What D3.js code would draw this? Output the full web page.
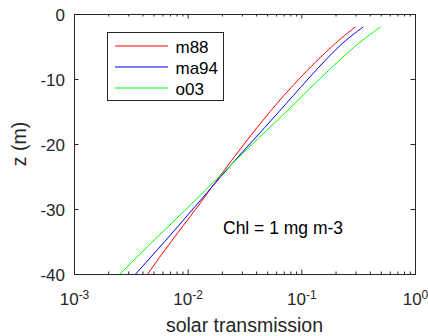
<!DOCTYPE html>
<html>
<head>
<meta charset="utf-8">
<script src="https://cdn.jsdelivr.net/npm/d3@7"></script>
<style>
  body { margin: 0; background: #fff; }
  svg { display: block; }
  text { font-family: "Liberation Sans", Arial, Helvetica, sans-serif; }
</style>
</head>
<body>
<svg id="chart" width="428" height="336"></svg>
<script>
// Depths (m) at which the transmission profiles are sampled
const depths = [-2, -5, -10, -15, -20, -25, -30, -35, -40];

// Solar transmission for Chl = 1 mg m-3, per parameterisation
const m88  = [0.298, 0.186, 0.0955, 0.0532, 0.0314, 0.0191, 0.0118, 0.00716, 0.00445];
const ma94 = [0.350, 0.215, 0.1146, 0.0638, 0.0352, 0.0196, 0.01114, 0.00628, 0.00349];
const o03  = [0.498, 0.296, 0.145, 0.0740, 0.0371, 0.0189, 0.00973, 0.00493, 0.00254];

const seriesNames = ["m88", "ma94", "o03"];
const seriesColors = ["#ff0000", "#0000ff", "#00ff00"];

// Axis ticks
const xMajor = [1e-3, 1e-2, 1e-1, 1];
const xExponents = ["-3", "-2", "-1", "0"];
const yTicks = [0, -10, -20, -30, -40];

const axisColor = "#262626";
const svg = d3.select("#chart");

const x = d3.scaleLog().domain([1e-3, 1]).range([74, 415]);
const y = d3.scaleLinear().domain([-40, 0]).range([274, 14]);

// minor log ticks 2..9 within each decade
const xMinor = [];
for (let k = -3; k < 0; k++) {
  for (let m = 2; m <= 9; m++) xMinor.push(m * Math.pow(10, k));
}

function clean(g) {
  g.select(".domain").remove();
  g.attr("color", axisColor);
}

// bottom axis: major with labels, then minor
svg.append("g")
  .attr("transform", "translate(0,274)")
  .call(d3.axisBottom(x).tickValues(xMajor).tickSizeInner(-4.5).tickSizeOuter(0)
        .tickPadding(19).tickFormat(() => "10"))
  .call(clean)
  .call(g => {
    g.attr("font-size", 17).attr("font-family", null);
    g.selectAll(".tick text").each(function (d, i) {
      d3.select(this).append("tspan")
        .attr("dy", "-0.5em")
        .attr("font-size", 12)
        .text(xExponents[i]);
    });
  });
svg.append("g")
  .attr("transform", "translate(0,274)")
  .call(d3.axisBottom(x).tickValues(xMinor).tickSizeInner(-2.5).tickSizeOuter(0).tickFormat(() => ""))
  .call(clean);

// top axis (ticks only)
svg.append("g")
  .attr("transform", "translate(0,14)")
  .call(d3.axisTop(x).tickValues(xMajor).tickSizeInner(-4.5).tickSizeOuter(0).tickFormat(() => ""))
  .call(clean);
svg.append("g")
  .attr("transform", "translate(0,14)")
  .call(d3.axisTop(x).tickValues(xMinor).tickSizeInner(-2.5).tickSizeOuter(0).tickFormat(() => ""))
  .call(clean);

// left axis
svg.append("g")
  .attr("transform", "translate(74,0)")
  .call(d3.axisLeft(y).tickValues(yTicks).tickSizeInner(-4.5).tickSizeOuter(0)
        .tickPadding(9).tickFormat(d => String(d)))
  .call(clean)
  .call(g => {
    g.attr("font-size", 17).attr("font-family", null);
    g.selectAll(".tick text").attr("dy", "0.36em");
  });

// right axis (ticks only)
svg.append("g")
  .attr("transform", "translate(415,0)")
  .call(d3.axisRight(y).tickValues(yTicks).tickSizeInner(-4.5).tickSizeOuter(0).tickFormat(() => ""))
  .call(clean);

// frame
svg.append("rect")
  .attr("x", x(1e-3) + 0.5).attr("y", y(0) + 0.5)
  .attr("width", x(1) - x(1e-3)).attr("height", y(-40) - y(0))
  .attr("fill", "none").attr("stroke", axisColor).attr("stroke-width", 1);

// profiles
const line = d3.line()
  .x(d => x(d.v))
  .y(d => y(d.z))
  .curve(d3.curveNatural);

[m88, ma94, o03].forEach((vals, i) => {
  const pts = depths.map((z, j) => ({ z, v: vals[j] }));
  svg.append("path")
    .datum(pts)
    .attr("d", line)
    .attr("fill", "none")
    .attr("stroke", seriesColors[i])
    .attr("stroke-width", 1);
});

// legend
const legend = svg.append("g");
legend.append("rect")
  .attr("x", 107.5).attr("y", 32.5).attr("width", 116).attr("height", 68)
  .attr("fill", "#fff").attr("stroke", axisColor).attr("stroke-width", 1);
seriesNames.forEach((name, i) => {
  const ly = 46 + i * 21;
  legend.append("line")
    .attr("x1", 115).attr("x2", 168).attr("y1", ly).attr("y2", ly)
    .attr("stroke", seriesColors[i]).attr("stroke-width", 1);
  legend.append("text")
    .attr("x", 175.5).attr("y", ly + 6.5)
    .attr("font-size", 17).attr("fill", "#000")
    .text(name);
});

// annotation
svg.append("text")
  .attr("x", 223).attr("y", 234)
  .attr("font-size", 17.5).attr("fill", "#000")
  .text("Chl = 1 mg m-3");

// axis titles
svg.append("text")
  .attr("x", (x(1e-3) + x(1)) / 2).attr("y", 332)
  .attr("text-anchor", "middle").attr("font-size", 19.5).attr("fill", axisColor)
  .text("solar transmission");
svg.append("text")
  .attr("transform", `translate(26,${(y(0) + y(-40)) / 2}) rotate(-90)`)
  .attr("text-anchor", "middle").attr("font-size", 19.5).attr("fill", axisColor)
  .text("z (m)");
</script>
</body>
</html>
